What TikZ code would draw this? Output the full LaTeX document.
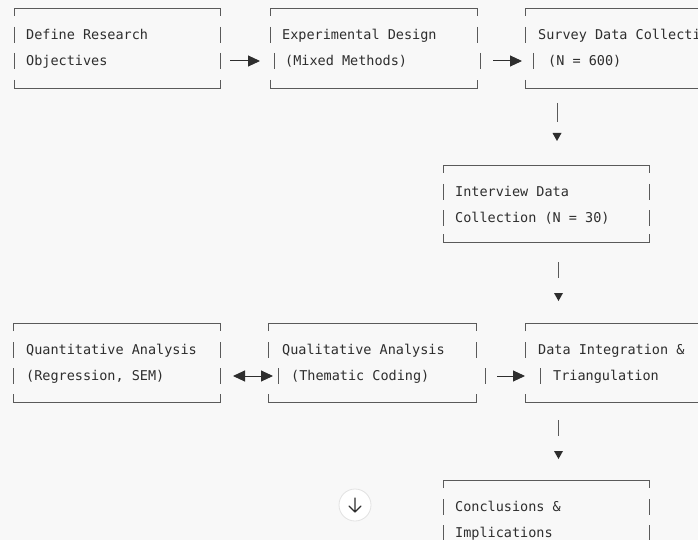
\documentclass[tikz,border=0pt]{standalone}
\usepackage{fontspec}
\newfontfamily\monofont{DejaVu Sans Mono}
\usetikzlibrary{arrows.meta}
\definecolor{bg}{HTML}{F8F8F8}
\definecolor{ink}{HTML}{2E2E2E}
\definecolor{rule}{HTML}{5A5A5A}
\definecolor{btnedge}{HTML}{E2E2E2}
\newcommand\asciibox[8]{%
  \draw[boxline] (#1,#3+8) -- (#1,#3) -- (#2,#3) -- (#2,#3+8);
  \draw[boxline] (#1,#4-8) -- (#1,#4) -- (#2,#4) -- (#2,#4-8);
  \draw[boxline] (#1,#5-8) -- (#1,#5+8) (#2,#5-8) -- (#2,#5+8);
  \draw[boxline] (#7,#6-8) -- (#7,#6+8) (#8,#6-8) -- (#8,#6+8);
}
\newcommand\downtip[2]{%
  \fill[ink] (#1-4.5,#2) -- (#1+4.5,#2) -- (#1,#2+8) -- cycle;
}
\begin{document}
\begin{tikzpicture}[x=1pt,y=-1pt,
  boxline/.style={draw=rule,line width=0.8pt},
  txt/.style={anchor=base west,inner sep=0pt,text=ink,font=\monofont\fontsize{13.5}{16}\selectfont},
  flow/.style={draw=ink,line width=1pt,-{Triangle[length=12pt,width=11pt]}},
  both/.style={draw=ink,line width=1pt,{Triangle[length=12pt,width=11pt]}-{Triangle[length=12pt,width=11pt]}},
  vbar/.style={draw=rule,line width=0.8pt}]
\useasboundingbox (0,0) rectangle (698,540);
\fill[bg] (0,0) rectangle (698,540);
\clip (0,0) rectangle (698,540);

% ---- boxes ----
\asciibox{14}{220}{8}{88}{35}{61}{14}{220}
\node[txt] (A1) at (26,39.5) {Define Research};
\node[txt] (A2) at (26,65.5) {Objectives};

\asciibox{270}{477}{8}{88}{35}{61}{274}{480}
\node[txt] (B1) at (282,39.5) {Experimental Design};
\node[txt] (B2) at (285,65.5) {(Mixed Methods)};

\asciibox{525}{760}{8}{88}{35}{61}{533}{770}
\node[txt] (C1) at (538,39.5) {Survey Data Collection};
\node[txt] (C2) at (548,65.5) {(N = 600)};

\asciibox{443}{649}{165}{242}{192}{218}{443}{649}
\node[txt] (D1) at (455,196.5) {Interview Data};
\node[txt] (D2) at (455,222.5) {Collection (N = 30)};

\asciibox{13}{220}{323}{402}{350}{376}{13}{220}
\node[txt] (E1) at (26,354.5) {Quantitative Analysis};
\node[txt] (E2) at (26,380.5) {(Regression, SEM)};

\asciibox{268}{476}{323}{402}{350}{376}{278}{485}
\node[txt] (F1) at (282,354.5) {Qualitative Analysis};
\node[txt] (F2) at (291,380.5) {(Thematic Coding)};

\asciibox{525}{760}{323}{402}{350}{376}{540}{770}
\node[txt] (G1) at (538,354.5) {Data Integration \&};
\node[txt] (G2) at (553,380.5) {Triangulation};

\asciibox{443}{649}{480}{620}{507}{533}{443}{649}
\node[txt] (H1) at (455,511.5) {Conclusions \&};
\node[txt] (H2) at (455,537.5) {Implications};

% ---- connectors ----
\coordinate (ab1) at (230,61); \coordinate (ab2) at (260,61);
\draw[flow] (ab1) -- (ab2);
\coordinate (bc1) at (493,61); \coordinate (bc2) at (522,61);
\draw[flow] (bc1) -- (bc2);

\coordinate (cd1) at (557,103); \coordinate (cd2) at (557,122);
\draw[vbar] (cd1) -- (cd2);
\downtip{557}{133}

\coordinate (dg1) at (558,262); \coordinate (dg2) at (558,278);
\draw[vbar] (dg1) -- (dg2);
\downtip{558.5}{293}

\coordinate (ef1) at (233,376); \coordinate (ef2) at (273,376);
\draw[both] (ef1) -- (ef2);
\coordinate (fg1) at (497,376); \coordinate (fg2) at (525,376);
\draw[flow] (fg1) -- (fg2);

\coordinate (gh1) at (558,420); \coordinate (gh2) at (558,436);
\draw[vbar] (gh1) -- (gh2);
\downtip{558.5}{451}

% ---- scroll button ----
\node[circle,draw=btnedge,fill=white,minimum size=32pt,inner sep=0pt,line width=0.8pt] (btn) at (355,505) {};
\draw[ink,line width=1.1pt,line cap=round,line join=round]
  ([yshift=7pt]btn.center) -- ([yshift=-7pt]btn.center)
  ([xshift=-6pt,yshift=-1pt]btn.center) -- ([yshift=-7pt]btn.center) -- ([xshift=6pt,yshift=-1pt]btn.center);
\end{tikzpicture}
\end{document}
